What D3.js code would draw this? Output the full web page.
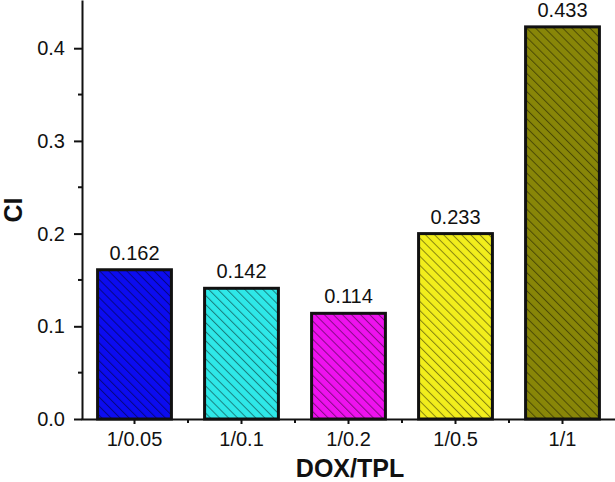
<!DOCTYPE html>
<html>
<head>
<meta charset="utf-8">
<script src="https://cdn.jsdelivr.net/npm/d3@7"></script>
<style>
  body { margin: 0; background: #fff; }
  svg text { font-family: "Liberation Sans", Arial, sans-serif; fill: #111; }
  .axis path, .axis line { stroke: #111; stroke-width: 2; }
</style>
</head>
<body>
<svg id="chart" width="615" height="482"></svg>
<script>
// categories on x, bar heights as drawn, and the printed labels above each bar
const categories = ["1/0.05", "1/0.1", "1/0.2", "1/0.5", "1/1"];
const ciValues = [0.161, 0.141, 0.114, 0.200, 0.423];
const ciLabels = ["0.162", "0.142", "0.114", "0.233", "0.433"];
const barColors = ["#0c0cf0", "#2ee8e8", "#ee12ee", "#f2ee1c", "#888608"];
const yTicks = [0, 0.1, 0.2, 0.3, 0.4];
const yMinorTicks = [0.05, 0.15, 0.25, 0.35];

const axisX = 82, axisY = 419;

const svg = d3.select("#chart");

const x = d3.scaleBand()
  .domain(categories)
  .range([81, 616])
  .paddingInner(0.31)
  .paddingOuter(0.155);

const y = d3.scaleLinear()
  .domain([0, 0.452])
  .range([axisY, 0]);

// hatch patterns, one per bar colour
const defs = svg.append("defs");
categories.forEach((c, i) => {
  const p = defs.append("pattern")
    .attr("id", "hatch" + i)
    .attr("patternUnits", "userSpaceOnUse")
    .attr("width", 6.4)
    .attr("height", 10)
    .attr("patternTransform", "rotate(-45)");
  p.append("rect").attr("width", 6.4).attr("height", 10).attr("fill", barColors[i]);
  p.append("line")
    .attr("x1", 0.5).attr("x2", 0.5)
    .attr("y1", 0).attr("y2", 10)
    .attr("stroke", "#000")
    .attr("stroke-opacity", 0.45)
    .attr("stroke-width", 1);
});

// bars
svg.selectAll(".bar")
  .data(categories)
  .join("rect")
  .attr("class", "bar")
  .attr("x", d => x(d))
  .attr("width", x.bandwidth())
  .attr("y", (d, i) => y(ciValues[i]))
  .attr("height", (d, i) => y(0) - y(ciValues[i]))
  .attr("fill", (d, i) => `url(#hatch${i})`)
  .attr("stroke", "#111")
  .attr("stroke-width", 3);

// value labels
svg.selectAll(".val")
  .data(categories)
  .join("text")
  .attr("class", "val")
  .attr("x", d => x(d) + x.bandwidth() / 2)
  .attr("y", (d, i) => y(ciValues[i]) - 10)
  .attr("text-anchor", "middle")
  .attr("font-size", 20)
  .text((d, i) => ciLabels[i]);

// y axis
const yAxis = d3.axisLeft(y)
  .tickValues(yTicks)
  .tickFormat(d3.format(".1f"))
  .tickSize(8)
  .tickSizeOuter(0)
  .tickPadding(9);

const gy = svg.append("g")
  .attr("class", "axis")
  .attr("transform", `translate(${axisX},0)`)
  .call(yAxis);
gy.selectAll("text").attr("font-size", 20).style("fill", "#111");

gy.selectAll(".minor")
  .data(yMinorTicks)
  .join("line")
  .attr("class", "minor")
  .attr("x1", -4).attr("x2", 0)
  .attr("y1", d => y(d)).attr("y2", d => y(d));

// x axis
const xAxis = d3.axisBottom(x)
  .tickSize(5)
  .tickSizeOuter(0)
  .tickPadding(8);

const gx = svg.append("g")
  .attr("class", "axis")
  .attr("transform", `translate(0,${axisY})`)
  .call(xAxis);
gx.selectAll("text").attr("font-size", 20).style("fill", "#111");

gx.selectAll(".minor")
  .data(categories)
  .join("line")
  .attr("class", "minor")
  .attr("x1", d => x(d) + x.bandwidth() / 2 + x.step() / 2)
  .attr("x2", d => x(d) + x.bandwidth() / 2 + x.step() / 2)
  .attr("y1", 0).attr("y2", 4);

// axis titles
svg.append("text")
  .attr("x", 350)
  .attr("y", 477)
  .attr("text-anchor", "middle")
  .attr("font-size", 25)
  .attr("font-weight", "bold")
  .text("DOX/TPL");

svg.append("text")
  .attr("transform", "translate(22,210) rotate(-90)")
  .attr("text-anchor", "middle")
  .attr("font-size", 25)
  .attr("font-weight", "bold")
  .text("CI");
</script>
</body>
</html>
